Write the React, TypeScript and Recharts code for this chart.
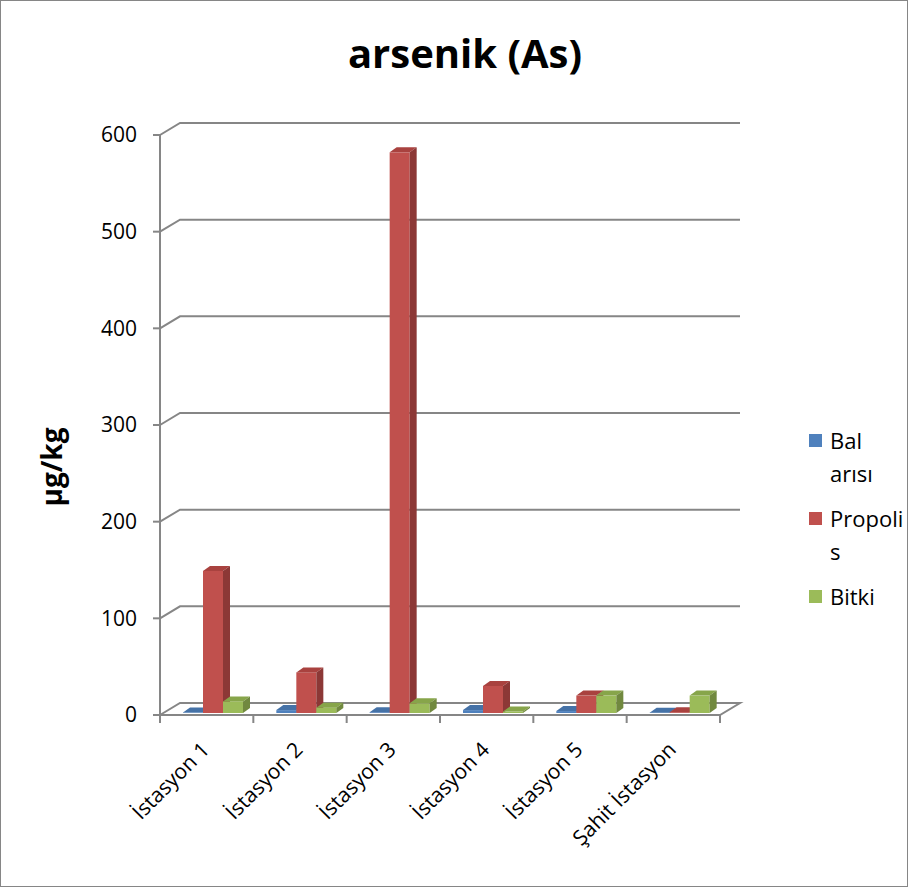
import React from 'react';
import { BarChart, Bar, XAxis, YAxis, CartesianGrid } from 'recharts';

const CATEGORIES = ['İstasyon 1', 'İstasyon 2', 'İstasyon 3', 'İstasyon 4', 'İstasyon 5', 'Şahit İstasyon'];
const BAL_ARISI = [0.5, 3, 0.8, 3, 2, 0.3];
const PROPOLIS = [147, 42, 580, 28, 18, 0.8];
const BITKI = [12, 5.5, 10, 1.5, 18, 18];
const Y_TICKS = [0, 100, 200, 300, 400, 500, 600];

const SERIES = [
  { key: 'bal', name: 'Bal arısı', legend: ['Bal', 'arısı'], front: '#4F81BD', top: '#4572A7', side: '#385D8A' },
  { key: 'propolis', name: 'Propolis', legend: ['Propoli', 's'], front: '#C0504D', top: '#A9423F', side: '#8C3836' },
  { key: 'bitki', name: 'Bitki', legend: ['Bitki'], front: '#9BBB59', top: '#87A54A', side: '#71893F' },
];

const data = CATEGORIES.map((name, i) => ({
  name,
  bal: BAL_ARISI[i],
  propolis: PROPOLIS[i],
  bitki: BITKI[i],
}));

const FONT = '"Open Sans", Lato, sans-serif';
const GRID = '#868686';

// chart box + 3d depth
const W = 906;
const H = 885;
const MARGIN = { top: 134, right: 187, bottom: 71, left: 99 };
const Y_AXIS_W = 60;
const X_AXIS_H = 100;
const PLOT_LEFT = MARGIN.left + Y_AXIS_W;
const PLOT_BOTTOM = H - MARGIN.bottom - X_AXIS_H;
const PLOT_W = W - PLOT_LEFT - MARGIN.right;
const BAND = PLOT_W / CATEGORIES.length;
const DEPTH_X = 20;
const DEPTH_Y = 12;
const BAR_DX = 7;
const BAR_DY = 5;
const BAR_SHIFT_X = 6;
const BAR_SHIFT_Y = -2;

const gridLine = (props: any) => {
  const { x1, y1, x2, y2, index } = props;
  const isFloor = Math.abs(y1 - PLOT_BOTTOM) < 1;
  if (isFloor) {
    return (
      <polygon
        key={`g-${index}`}
        points={`${x1},${y1} ${x1 + DEPTH_X},${y1 - DEPTH_Y} ${x2 + DEPTH_X},${y2 - DEPTH_Y} ${x2},${y2}`}
        fill="#fff"
        stroke={GRID}
        strokeWidth={2}
      />
    );
  }
  return (
    <polyline
      key={`g-${index}`}
      points={`${x1},${y1} ${x1 + DEPTH_X},${y1 - DEPTH_Y} ${x2 + DEPTH_X},${y2 - DEPTH_Y}`}
      fill="none"
      stroke={GRID}
      strokeWidth={2}
    />
  );
};

const makeShape = (s: typeof SERIES[number]) => (props: any) => {
  const { width, height } = props;
  if (props.x == null || props.y == null) return <g />;
  const x = props.x + BAR_SHIFT_X;
  const y = props.y + BAR_SHIFT_Y;
  const h = Math.max(height || 0, 0);
  return (
    <g>
      <rect x={x} y={y} width={width} height={h} fill={s.front} />
      <polygon
        points={`${x},${y} ${x + BAR_DX},${y - BAR_DY} ${x + width + BAR_DX},${y - BAR_DY} ${x + width},${y}`}
        fill={s.top}
      />
      <polygon
        points={`${x + width},${y} ${x + width + BAR_DX},${y - BAR_DY} ${x + width + BAR_DX},${y + h - BAR_DY} ${x + width},${y + h}`}
        fill={s.side}
      />
    </g>
  );
};

const XTick = (props: any) => {
  const { x, y, payload, index } = props;
  const left = x - BAND / 2;
  const right = x + BAND / 2;
  const tx = x + 4;
  const ty = y + 36;
  return (
    <g>
      <line x1={left} y1={y} x2={left} y2={y + 8} stroke={GRID} strokeWidth={2} />
      {index === CATEGORIES.length - 1 && (
        <line x1={right} y1={y} x2={right} y2={y + 8} stroke={GRID} strokeWidth={2} />
      )}
      <text
        x={tx}
        y={ty}
        transform={`rotate(-45 ${tx} ${ty})`}
        textAnchor="end"
        fontFamily={FONT}
        fontSize={21}
        fill="#000"
      >
        {payload.value}
      </text>
    </g>
  );
};

export default function App() {
  return (
    <div
      style={{
        position: 'absolute',
        left: 0,
        top: 0,
        width: W,
        height: H,
        border: `1px solid ${GRID}`,
        background: '#fff',
        fontFamily: FONT,
      }}
    >
      <div
        style={{
          position: 'absolute',
          left: 0,
          width: 928,
          top: 26,
          textAlign: 'center',
          fontSize: 40,
          fontWeight: 700,
          lineHeight: '52px',
        }}
      >
        arsenik (As)
      </div>
      <div
        style={{
          position: 'absolute',
          left: 50 - 60,
          top: 466 - 19,
          width: 120,
          height: 38,
          lineHeight: '38px',
          textAlign: 'center',
          fontSize: 28,
          fontWeight: 700,
          transform: 'rotate(-90deg)',
        }}
      >
        µg/kg
      </div>
      <BarChart width={W} height={H} data={data} margin={MARGIN} barGap={0} barCategoryGap="18%">
        <CartesianGrid vertical={false} horizontal={gridLine} />
        <XAxis
          dataKey="name"
          height={X_AXIS_H}
          interval={0}
          tickLine={false}
          tickSize={0}
          tickMargin={0}
          axisLine={{ stroke: GRID, strokeWidth: 2 }}
          tick={<XTick />}
        />
        <YAxis
          width={Y_AXIS_W}
          domain={[0, 600]}
          ticks={Y_TICKS}
          interval={0}
          tickSize={7}
          tickMargin={16}
          axisLine={{ stroke: GRID, strokeWidth: 2 }}
          tickLine={{ stroke: GRID, strokeWidth: 2 }}
          tick={{ fill: '#000', fontSize: 21, fontFamily: FONT }}
        />
        {SERIES.map((s) => (
          <Bar
            key={s.key}
            dataKey={s.key}
            name={s.name}
            fill={s.front}
            barSize={20}
            isAnimationActive={false}
            shape={makeShape(s)}
          />
        ))}
      </BarChart>
      <div style={{ position: 'absolute', left: 807, top: 423, fontSize: 22, lineHeight: '33px' }}>
        {SERIES.map((s) => (
          <div key={s.key} style={{ position: 'relative', paddingLeft: 22, marginBottom: 12 }}>
            <span
              style={{
                position: 'absolute',
                left: 1,
                top: 10,
                width: 13,
                height: 13,
                background: s.front,
              }}
            />
            {s.legend.map((line) => (
              <div key={line}>{line}</div>
            ))}
          </div>
        ))}
      </div>
    </div>
  );
}
